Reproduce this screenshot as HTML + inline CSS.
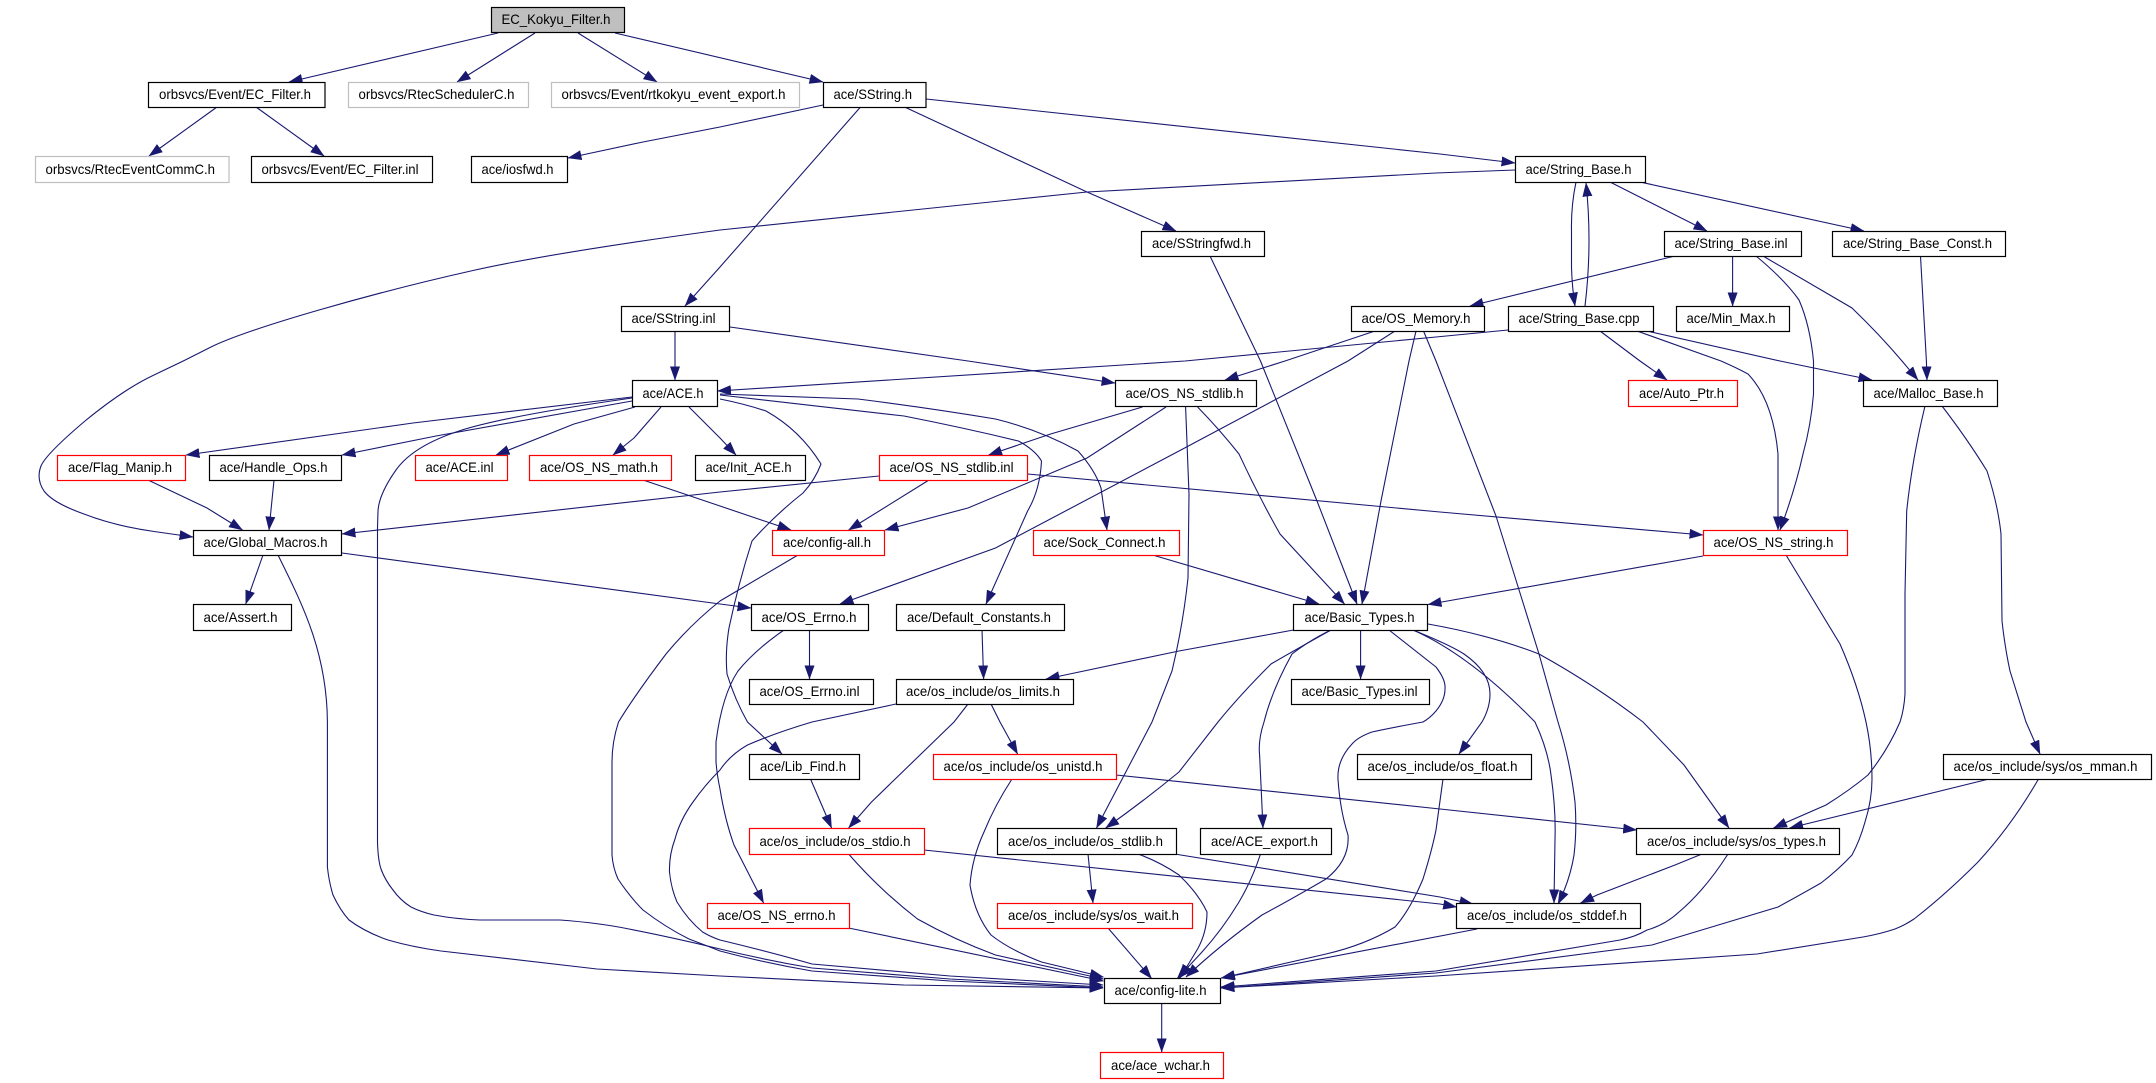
<!DOCTYPE html>
<html><head><meta charset="utf-8"><title>EC_Kokyu_Filter.h include graph</title>
<style>
html,body{margin:0;padding:0;background:#fff}
svg{display:block}
text{font-family:"Liberation Sans",sans-serif;font-size:14px;fill:#000}
.e path{fill:none;stroke:#191970;stroke-width:1.1}
.n rect{fill:#fff;stroke:#000;stroke-width:1.2}
.n rect.r{stroke:#f00}
.n rect.g{stroke:#bfbfbf}
.n rect.root{fill:#bfbfbf}
</style></head><body>
<svg xmlns="http://www.w3.org/2000/svg" width="2156" height="1083" viewBox="0 0 2156 1083">
<defs><marker id="a" markerUnits="userSpaceOnUse" markerWidth="14" markerHeight="10" refX="13.5" refY="5" orient="auto"><path d="M0,0L14,5L0,10z" fill="#191970" style="stroke:none"/></marker></defs>
<g class="e" marker-end="url(#a)">
<path d="M498,33L289,82"/>
<path d="M535,33L457,82"/>
<path d="M578,33L657,82"/>
<path d="M615,33L823,82"/>
<path d="M217,107L149,156"/>
<path d="M256,107L324,156"/>
<path d="M823,105L720,127L643,142L568,158"/>
<path d="M860.5,107L720,267L685,306"/>
<path d="M904.6,107L1087,192L1176,231"/>
<path d="M926,99L1440,154L1515,163"/>
<path d="M1515,170L1436,173L1087,192L720,230Q551,253 473,270.5Q395,288 319,310Q243,332 213,346Q184,361 154,375Q124,389 85,421Q46,454 41,466Q36,479 44,491Q53,503 84,514Q115,526 154,531.5L193,537"/>
<path d="M1576,182Q1571,206 1571.5,230L1571.5,267Q1572,287 1575,306"/>
<path d="M1585,306Q1589,273 1589,240Q1589,211 1586,183"/>
<path d="M1610,182L1707,231"/>
<path d="M1640,182L1864,231"/>
<path d="M1675,256L1470,306"/>
<path d="M1732.6,256L1732.6,306"/>
<path d="M1756,256Q1785,280 1799,300Q1810,325 1813.5,361L1813.5,394Q1811,425 1803,454Q1795,490 1780,530"/>
<path d="M1763,256L1852,308Q1880,335 1902,361L1918,380"/>
<path d="M1920.5,256L1926.4,361L1927,380"/>
<path d="M1508,330L1436,337L1185,361L717.5,391"/>
<path d="M1600,331L1640,361L1667,380"/>
<path d="M1637,331L1721,361Q1737,368 1748,374Q1773,400 1778,454L1778,530"/>
<path d="M1647,331L1780,361L1872,380"/>
<path d="M1375,331L1285,361L1225,380"/>
<path d="M1395,331L1348,361L1179,451L995.5,548L840,604"/>
<path d="M1416,331L1409,361L1381,501L1362,604"/>
<path d="M1423.5,331L1436,361L1496,516L1539,654L1558,722Q1570,760 1575,802Q1577,830 1574,855Q1570,880 1558,904"/>
<path d="M1210,256L1260.5,361L1317,501L1357,604"/>
<path d="M675,331L675,380"/>
<path d="M730,327L968,361L1115,383"/>
<path d="M632,397L413,423L186,455"/>
<path d="M632,401L436,436L342,455"/>
<path d="M635,407L574,424L496,455"/>
<path d="M661,407L634,438L613,455"/>
<path d="M689,407L720,438L736,455"/>
<path d="M632,398Q505,416 459,431Q413,446 396,470Q379,494 378,511L377.5,528L377.5,842Q378,860 381,869Q385,880 393,890Q400,900 411,907Q421,912 434,915Q455,919 480,920L560,920Q600,923 629,929Q675,938 720,949Q765,960 812,968L950,979L1103,987"/>
<path d="M278,555C300,600 327,650 327.4,722L327.4,867Q329,882 333,895Q340,910 349,920Q365,932 388,940Q412,947 441,951L597,969L720,976L904,985L1103,988"/>
<path d="M720,394L858,399Q930,408 995.5,419Q1040,430 1078,451Q1095,470 1101,488L1107,530"/>
<path d="M720,395L904,416Q965,428 1018.5,441Q1035,450 1041.5,461Q1040,490 1027.6,511L986,604"/>
<path d="M720,399Q745,404 766,411Q800,430 821,464Q815,480 803,493Q775,515 752,541Q738,585 729,628Q725,652 727,674Q735,700 747.5,722L782,754"/>
<path d="M1142.5,407L1050.6,434L988.6,455"/>
<path d="M1166,407L1087,458L968,508L885,530"/>
<path d="M1197.6,407Q1220,430 1239,454Q1258,495 1280,534L1344.5,604"/>
<path d="M1185.6,407L1189,494L1188,578Q1183,625 1172,671L1152,722L1096.5,828"/>
<path d="M879,476L720,492L342,534"/>
<path d="M929,480L848.6,530"/>
<path d="M1027.6,474L1440,512L1703,535"/>
<path d="M643,480L720,506L791,530"/>
<path d="M148,480L207,508L242.5,530"/>
<path d="M274,480L269,530"/>
<path d="M263,555L245.7,604"/>
<path d="M342,553L720,604L751,608"/>
<path d="M798,555L720,601Q690,625 666,654Q635,695 618.5,722Q612,742 612,762L612,855Q613,868 618,879Q630,897 643,910Q665,927 689,939Q705,945 720,951Q765,963 812,971L950,981L1103,988"/>
<path d="M1152.6,555L1319,604"/>
<path d="M1703,556L1436,603L1428,604.5"/>
<path d="M1786,555L1840,644Q1858,685 1866,722Q1872,750 1872,779Q1872,800 1865,822Q1860,840 1852,855Q1838,870 1821,883Q1800,895 1778,907L1652,945L1436,973L1221,988"/>
<path d="M1293.5,630L1179,651L1046,679"/>
<path d="M1360.6,630L1360.6,679"/>
<path d="M1331,630Q1295,650 1271,664Q1240,695 1218,722Q1200,745 1179,772Q1145,800 1105.7,828"/>
<path d="M1331,630Q1310,640 1292,654Q1272,690 1264,722Q1258,740 1259.6,755L1263,828"/>
<path d="M1413,630Q1450,645 1464,654Q1490,672 1490,694Q1490,708 1482,722L1459,754"/>
<path d="M1413,630Q1470,655 1535,722Q1548,750 1551,775Q1556,810 1555,839L1554,903"/>
<path d="M1428,624Q1490,635 1539,654Q1595,685 1643,722Q1665,745 1684,765L1729,828"/>
<path d="M1389,630L1436,667Q1446,680 1445,689Q1445,700 1436,711Q1430,718 1423,722Q1390,728 1372,732Q1358,737 1352,744Q1337,760 1338,779Q1340,810 1348,835Q1350,860 1326,879Q1290,900 1262,915Q1220,945 1186,977"/>
<path d="M982,630L983.6,679"/>
<path d="M809.5,630L809.5,679"/>
<path d="M784,630Q755,650 738,671Q722,695 716,742L716,762Q717,775 720,789Q725,820 734,845L763.6,903"/>
<path d="M896,704L812,722Q775,733 747.5,745Q730,755 720,770Q705,785 693,802Q680,820 675,839Q669,855 669.5,872Q671,888 677,902Q688,920 702.6,932Q711,937 720,940Q770,952 812,964L950,976L1103,985"/>
<path d="M991,704L1000,722L1017.6,754"/>
<path d="M968,704L954,722L871.5,802L848.6,828"/>
<path d="M810.5,779L831.6,828"/>
<path d="M1012,779Q995,805 984,832Q972,858 970,885Q975,915 991,935Q1010,950 1041.5,962L1103.4,977"/>
<path d="M1116,775L1440,809L1636.7,830"/>
<path d="M924,850L1440,904L1456.7,907"/>
<path d="M1174.6,854L1440,897L1473,904"/>
<path d="M848.6,854Q880,890 917.5,919Q955,940 995.5,955L1103.4,979"/>
<path d="M1088,854L1093,903"/>
<path d="M1138,854Q1160,862 1179,875Q1198,893 1207,912Q1207,932 1197.6,949L1180,978"/>
<path d="M1260.5,854Q1252,880 1239,902Q1222,930 1202,952L1177,979"/>
<path d="M1443,779L1436,830Q1432,850 1423,879Q1410,910 1395,927Q1365,945 1326,954L1221.5,978"/>
<path d="M1108,928L1151.6,978.5"/>
<path d="M848.6,928L1103.4,981"/>
<path d="M1477,929L1221,978"/>
<path d="M1702,854L1675,865L1597,895L1580.6,903"/>
<path d="M1728,854Q1705,890 1679,912Q1665,925 1647,930Q1635,937 1620,940L1436,971L1221,987"/>
<path d="M2038.5,779Q2012,825 1978,862Q1945,895 1914,919Q1905,925 1895,929Q1880,934 1863,937L1757,954L1436,976L1221,988"/>
<path d="M1989,779L1789.6,828"/>
<path d="M1942,406Q1968,440 1987,471Q1998,505 2001,534L2002,621Q2005,648 2010,671L2026,722L2040,754"/>
<path d="M1925,406Q1912,460 1906.7,511L1905,594L1905,694Q1904,710 1900,722Q1888,750 1868,775Q1850,790 1826,805L1773.5,828"/>
<path d="M1161.7,1003L1161.7,1052"/>
</g>
<g class="n">
<rect class="root" x="491.5" y="7.5" width="133" height="25"/><text x="501.5" y="24.2" textLength="109" lengthAdjust="spacingAndGlyphs">EC_Kokyu_Filter.h</text>
<rect x="148.5" y="82.5" width="176.5" height="25"/><text x="159" y="99.2" textLength="152" lengthAdjust="spacingAndGlyphs">orbsvcs/Event/EC_Filter.h</text>
<rect class="g" x="348.5" y="82.5" width="180" height="25"/><text x="358.5" y="99.2" textLength="156" lengthAdjust="spacingAndGlyphs">orbsvcs/RtecSchedulerC.h</text>
<rect class="g" x="551.5" y="82.5" width="248" height="25"/><text x="561.5" y="99.2" textLength="224" lengthAdjust="spacingAndGlyphs">orbsvcs/Event/rtkokyu_event_export.h</text>
<rect x="823.5" y="82.5" width="102.5" height="25"/><text x="833.5" y="99.2" textLength="78.5" lengthAdjust="spacingAndGlyphs">ace/SString.h</text>
<rect class="g" x="35.5" y="156.5" width="193.5" height="26"/><text x="45.5" y="174" textLength="169.5" lengthAdjust="spacingAndGlyphs">orbsvcs/RtecEventCommC.h</text>
<rect x="251.5" y="156.5" width="181" height="26"/><text x="261.5" y="174" textLength="157" lengthAdjust="spacingAndGlyphs">orbsvcs/Event/EC_Filter.inl</text>
<rect x="471.5" y="156.5" width="96" height="26"/><text x="481.5" y="174" textLength="72" lengthAdjust="spacingAndGlyphs">ace/iosfwd.h</text>
<rect x="1515.5" y="156.5" width="130" height="26"/><text x="1525.5" y="174" textLength="106" lengthAdjust="spacingAndGlyphs">ace/String_Base.h</text>
<rect x="1141.5" y="231.5" width="123" height="25"/><text x="1152" y="248.2" textLength="99" lengthAdjust="spacingAndGlyphs">ace/SStringfwd.h</text>
<rect x="1664.5" y="231.5" width="137" height="25"/><text x="1674.5" y="248.2" textLength="113" lengthAdjust="spacingAndGlyphs">ace/String_Base.inl</text>
<rect x="1832.5" y="231.5" width="173" height="25"/><text x="1843" y="248.2" textLength="149" lengthAdjust="spacingAndGlyphs">ace/String_Base_Const.h</text>
<rect x="621.5" y="306.5" width="108" height="25"/><text x="631.5" y="323.2" textLength="84" lengthAdjust="spacingAndGlyphs">ace/SString.inl</text>
<rect x="1351.5" y="306.5" width="133" height="25"/><text x="1361.5" y="323.2" textLength="109" lengthAdjust="spacingAndGlyphs">ace/OS_Memory.h</text>
<rect x="1508.5" y="306.5" width="145" height="25"/><text x="1518.5" y="323.2" textLength="121" lengthAdjust="spacingAndGlyphs">ace/String_Base.cpp</text>
<rect x="1676.5" y="306.5" width="113" height="25"/><text x="1686.5" y="323.2" textLength="89" lengthAdjust="spacingAndGlyphs">ace/Min_Max.h</text>
<rect x="632.5" y="380.5" width="85" height="26"/><text x="642.5" y="398" textLength="61" lengthAdjust="spacingAndGlyphs">ace/ACE.h</text>
<rect x="1115.5" y="380.5" width="141" height="26"/><text x="1125.5" y="398" textLength="118" lengthAdjust="spacingAndGlyphs">ace/OS_NS_stdlib.h</text>
<rect class="r" x="1628.5" y="380.5" width="109" height="26"/><text x="1639" y="398" textLength="85" lengthAdjust="spacingAndGlyphs">ace/Auto_Ptr.h</text>
<rect x="1863.5" y="380.5" width="134" height="26"/><text x="1873.5" y="398" textLength="110" lengthAdjust="spacingAndGlyphs">ace/Malloc_Base.h</text>
<rect class="r" x="57.5" y="455.5" width="128" height="25"/><text x="68" y="472.2" textLength="104" lengthAdjust="spacingAndGlyphs">ace/Flag_Manip.h</text>
<rect x="209.5" y="455.5" width="132" height="25"/><text x="219.5" y="472.2" textLength="108" lengthAdjust="spacingAndGlyphs">ace/Handle_Ops.h</text>
<rect class="r" x="415.5" y="455.5" width="92" height="25"/><text x="425.5" y="472.2" textLength="68" lengthAdjust="spacingAndGlyphs">ace/ACE.inl</text>
<rect class="r" x="529.5" y="455.5" width="142" height="25"/><text x="540" y="472.2" textLength="118" lengthAdjust="spacingAndGlyphs">ace/OS_NS_math.h</text>
<rect x="695.5" y="455.5" width="110" height="25"/><text x="705.5" y="472.2" textLength="86" lengthAdjust="spacingAndGlyphs">ace/Init_ACE.h</text>
<rect class="r" x="879.5" y="455.5" width="148" height="25"/><text x="889.5" y="472.2" textLength="124" lengthAdjust="spacingAndGlyphs">ace/OS_NS_stdlib.inl</text>
<rect x="193.5" y="530.5" width="148" height="25"/><text x="203.5" y="547.2" textLength="124" lengthAdjust="spacingAndGlyphs">ace/Global_Macros.h</text>
<rect class="r" x="772.5" y="530.5" width="112" height="25"/><text x="783" y="547.2" textLength="88" lengthAdjust="spacingAndGlyphs">ace/config-all.h</text>
<rect class="r" x="1033.5" y="530.5" width="146" height="25"/><text x="1043.5" y="547.2" textLength="122" lengthAdjust="spacingAndGlyphs">ace/Sock_Connect.h</text>
<rect class="r" x="1703.5" y="530.5" width="144" height="25"/><text x="1713.5" y="547.2" textLength="120" lengthAdjust="spacingAndGlyphs">ace/OS_NS_string.h</text>
<rect x="193.5" y="604.5" width="98" height="26"/><text x="203.5" y="622" textLength="74" lengthAdjust="spacingAndGlyphs">ace/Assert.h</text>
<rect x="751.5" y="604.5" width="117" height="26"/><text x="761.5" y="622" textLength="95" lengthAdjust="spacingAndGlyphs">ace/OS_Errno.h</text>
<rect x="896.5" y="604.5" width="168" height="26"/><text x="907" y="622" textLength="144" lengthAdjust="spacingAndGlyphs">ace/Default_Constants.h</text>
<rect x="1293.5" y="604.5" width="134" height="26"/><text x="1304.5" y="622" textLength="110" lengthAdjust="spacingAndGlyphs">ace/Basic_Types.h</text>
<rect x="749.5" y="679.5" width="124" height="25"/><text x="759.5" y="696.2" textLength="100" lengthAdjust="spacingAndGlyphs">ace/OS_Errno.inl</text>
<rect x="896.5" y="679.5" width="177" height="25"/><text x="906" y="696.2" textLength="154" lengthAdjust="spacingAndGlyphs">ace/os_include/os_limits.h</text>
<rect x="1291.5" y="679.5" width="138" height="25"/><text x="1301.5" y="696.2" textLength="116" lengthAdjust="spacingAndGlyphs">ace/Basic_Types.inl</text>
<rect x="749.5" y="754.5" width="110" height="25"/><text x="760" y="771.2" textLength="86" lengthAdjust="spacingAndGlyphs">ace/Lib_Find.h</text>
<rect class="r" x="933.5" y="754.5" width="183" height="25"/><text x="943.5" y="771.2" textLength="159" lengthAdjust="spacingAndGlyphs">ace/os_include/os_unistd.h</text>
<rect x="1357.5" y="754.5" width="174" height="25"/><text x="1367.5" y="771.2" textLength="150" lengthAdjust="spacingAndGlyphs">ace/os_include/os_float.h</text>
<rect x="1943.5" y="754.5" width="208" height="25"/><text x="1953.5" y="771.2" textLength="184" lengthAdjust="spacingAndGlyphs">ace/os_include/sys/os_mman.h</text>
<rect class="r" x="749.5" y="828.5" width="175" height="26"/><text x="759.5" y="846" textLength="151" lengthAdjust="spacingAndGlyphs">ace/os_include/os_stdio.h</text>
<rect x="997.5" y="828.5" width="179" height="26"/><text x="1008" y="846" textLength="155" lengthAdjust="spacingAndGlyphs">ace/os_include/os_stdlib.h</text>
<rect x="1200.5" y="828.5" width="131" height="26"/><text x="1211" y="846" textLength="107" lengthAdjust="spacingAndGlyphs">ace/ACE_export.h</text>
<rect x="1636.5" y="828.5" width="203" height="26"/><text x="1647" y="846" textLength="179" lengthAdjust="spacingAndGlyphs">ace/os_include/sys/os_types.h</text>
<rect class="r" x="707.5" y="903.5" width="142" height="25"/><text x="717.5" y="920.2" textLength="118" lengthAdjust="spacingAndGlyphs">ace/OS_NS_errno.h</text>
<rect class="r" x="997.5" y="903.5" width="195" height="25"/><text x="1008" y="920.2" textLength="171" lengthAdjust="spacingAndGlyphs">ace/os_include/sys/os_wait.h</text>
<rect x="1456.5" y="903.5" width="184" height="25"/><text x="1467" y="920.2" textLength="160" lengthAdjust="spacingAndGlyphs">ace/os_include/os_stddef.h</text>
<rect x="1104.5" y="978.5" width="116" height="25"/><text x="1114.5" y="995.2" textLength="92" lengthAdjust="spacingAndGlyphs">ace/config-lite.h</text>
<rect class="r" x="1100.5" y="1052.5" width="123" height="26"/><text x="1111" y="1070" textLength="99" lengthAdjust="spacingAndGlyphs">ace/ace_wchar.h</text>
</g>
</svg>
</body></html>
